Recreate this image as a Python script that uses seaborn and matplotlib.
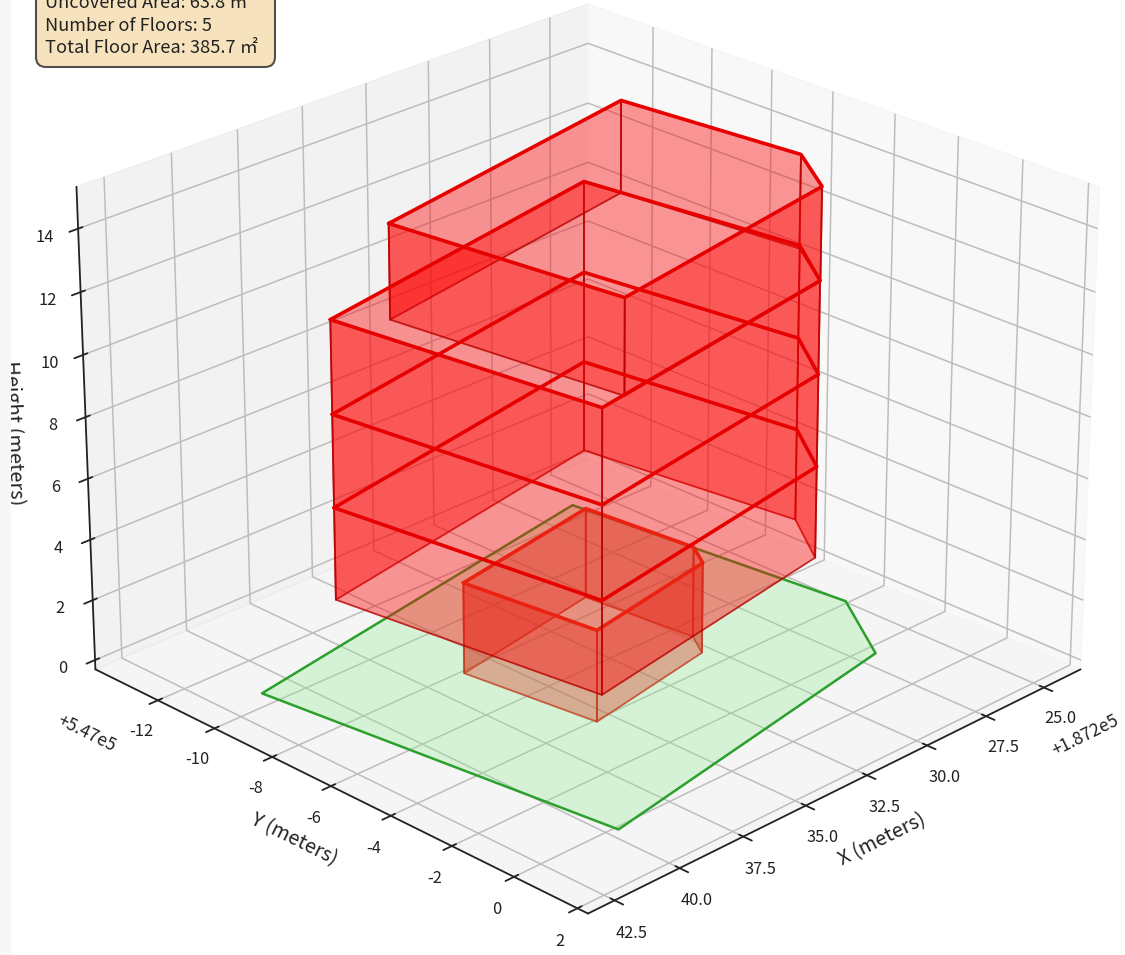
import matplotlib
matplotlib.use('Agg')
import matplotlib.pyplot as plt
import seaborn as sns
from matplotlib.patches import FancyBboxPatch, Rectangle
from matplotlib.transforms import IdentityTransform
from mpl_toolkits.mplot3d.art3d import Poly3DCollection

# footprints (local metres, offsets added below)
X0 = 187200
Y0 = 547000

site_x = [41.49, 26.48, 25.39, 27.25, 40.01]
site_y = [-10.20, -12.27, -3.78, -1.39, 0.40]

ground_x = [36.55, 35.97, 30.79, 30.24, 30.63]
ground_y = [-7.55, -3.59, -4.31, -5.05, -8.36]

middle_x = [39.85, 38.65, 28.26, 26.83, 27.83]
middle_y = [-9.02, -1.23, -2.62, -4.37, -10.73]

top_x = [38.68, 37.69, 28.30, 27.00, 27.68]
top_y = [-8.05, -1.32, -2.58, -4.25, -9.60]

floor_levels = [0, 3, 6, 9, 12, 15]

x_ticks = [25.0, 27.5, 30.0, 32.5, 35.0, 37.5, 40.0, 42.5]
y_ticks = [-12, -10, -8, -6, -4, -2, 0, 2]
z_ticks = [0, 2, 4, 6, 8, 10, 12, 14]

info_lines = ['Uncovered Area: 63.8 ㎡', 'Number of Floors: 5', 'Total Floor Area: 385.7 ㎡']

sns.set_theme(style='white')
plt.rcParams['font.family'] = ['Noto Sans CJK SC', 'DejaVu Sans']
plt.rcParams['axes.unicode_minus'] = False
plt.rcParams['axes.edgecolor'] = '#222222'
plt.rcParams['axes.linewidth'] = 1.3
plt.rcParams['axes.labelcolor'] = '#222222'
plt.rcParams['grid.color'] = '#bdbdbd'
plt.rcParams['grid.linewidth'] = 1.1
plt.rcParams['xtick.major.width'] = 1.3
plt.rcParams['ytick.major.width'] = 1.3
plt.rcParams['xtick.color'] = '#222222'
plt.rcParams['ytick.color'] = '#222222'


def draw_floor(ax, xs, ys, z0, z1, wall, edge, outline, order):
    """walls of one storey plus a heavy line round its ceiling"""
    xs = [X0 + v for v in xs]
    ys = [Y0 + v for v in ys]
    n = len(xs)
    walls = []
    for i in range(n):
        j = (i + 1) % n
        walls.append([(xs[i], ys[i], z0), (xs[j], ys[j], z0), (xs[j], ys[j], z1), (xs[i], ys[i], z1)])
    ax.add_collection3d(Poly3DCollection(walls, facecolor=wall, edgecolor=edge, linewidth=1.3, zorder=order))
    ax.plot(xs + xs[:1], ys + ys[:1], [z1] * (n + 1), color=outline, linewidth=2.6, zorder=order + 1)


fig = plt.figure(figsize=(11.25, 9.55), dpi=100)
ax = fig.add_axes([21.6 / 1125, -44 / 955, 1103 / 1125, 1103 / 955], projection='3d', computed_zorder=False)
ax.view_init(elev=25, azim=45)

# site
site = [list(zip([X0 + v for v in site_x], [Y0 + v for v in site_y], [0] * len(site_x)))]
ax.add_collection3d(Poly3DCollection(site, facecolor=(0.565, 0.933, 0.565, 0.3), edgecolor='#2ca02c', linewidth=1.8, zorder=1))

# floors, ground floor under the red ones
red_wall, red_edge, red_line = (1.0, 0.0, 0.0, 0.4), (0.72, 0.0, 0.0, 0.8), (0.9, 0.0, 0.0)
for k in range(5):
    z0, z1 = floor_levels[k], floor_levels[k + 1]
    if k == 0:
        draw_floor(ax, ground_x, ground_y, z0, z1, (0.84, 0.27, 0.18, 0.4), (0.75, 0.25, 0.12, 0.8), (0.87, 0.22, 0.12), 2)
    elif k < 4:
        draw_floor(ax, middle_x, middle_y, z0, z1, red_wall, red_edge, red_line, 4)
    else:
        draw_floor(ax, top_x, top_y, z0, z1, red_wall, red_edge, red_line, 4)

ax.set_xlim(187223.39, 187243.51)
ax.set_ylim(546985.75, 547002.33)
ax.set_zlim(-0.3125, 15.3125)
ax.set_xticks([X0 + v for v in x_ticks])
ax.set_yticks([Y0 + v for v in y_ticks])
ax.set_zticks(z_ticks)
ax.set_xlabel('X (meters)', fontsize=14.3, labelpad=9)
ax.set_ylabel('Y (meters)', fontsize=14.3, labelpad=9)
ax.set_zlabel('Height (meters)', fontsize=14.3, labelpad=9)
ax.tick_params(labelsize=11.8, pad=5.5)
ax.xaxis.get_offset_text().set_fontsize(12.5)
ax.yaxis.get_offset_text().set_fontsize(12.5)

# box runs past the top of the screenshot
box = FancyBboxPatch((36, 888), 239, 120, boxstyle='round,pad=0,rounding_size=10', transform=IdentityTransform(),
                     facecolor='wheat', alpha=0.85, edgecolor='#333333', linewidth=1.5)
fig.add_artist(box)
fig.text(45 / 1125, 1 - 57 / 955, '\n'.join(info_lines), fontsize=13.1, linespacing=1.31, va='bottom', ha='left', color='#222222')

# pale strip down the left edge of the screenshot
fig.add_artist(Rectangle((0, 0), 11 / 1125, 1, transform=fig.transFigure, facecolor='#f7f7f7', edgecolor='none', zorder=10))

fig.savefig('out.png', dpi=100)
